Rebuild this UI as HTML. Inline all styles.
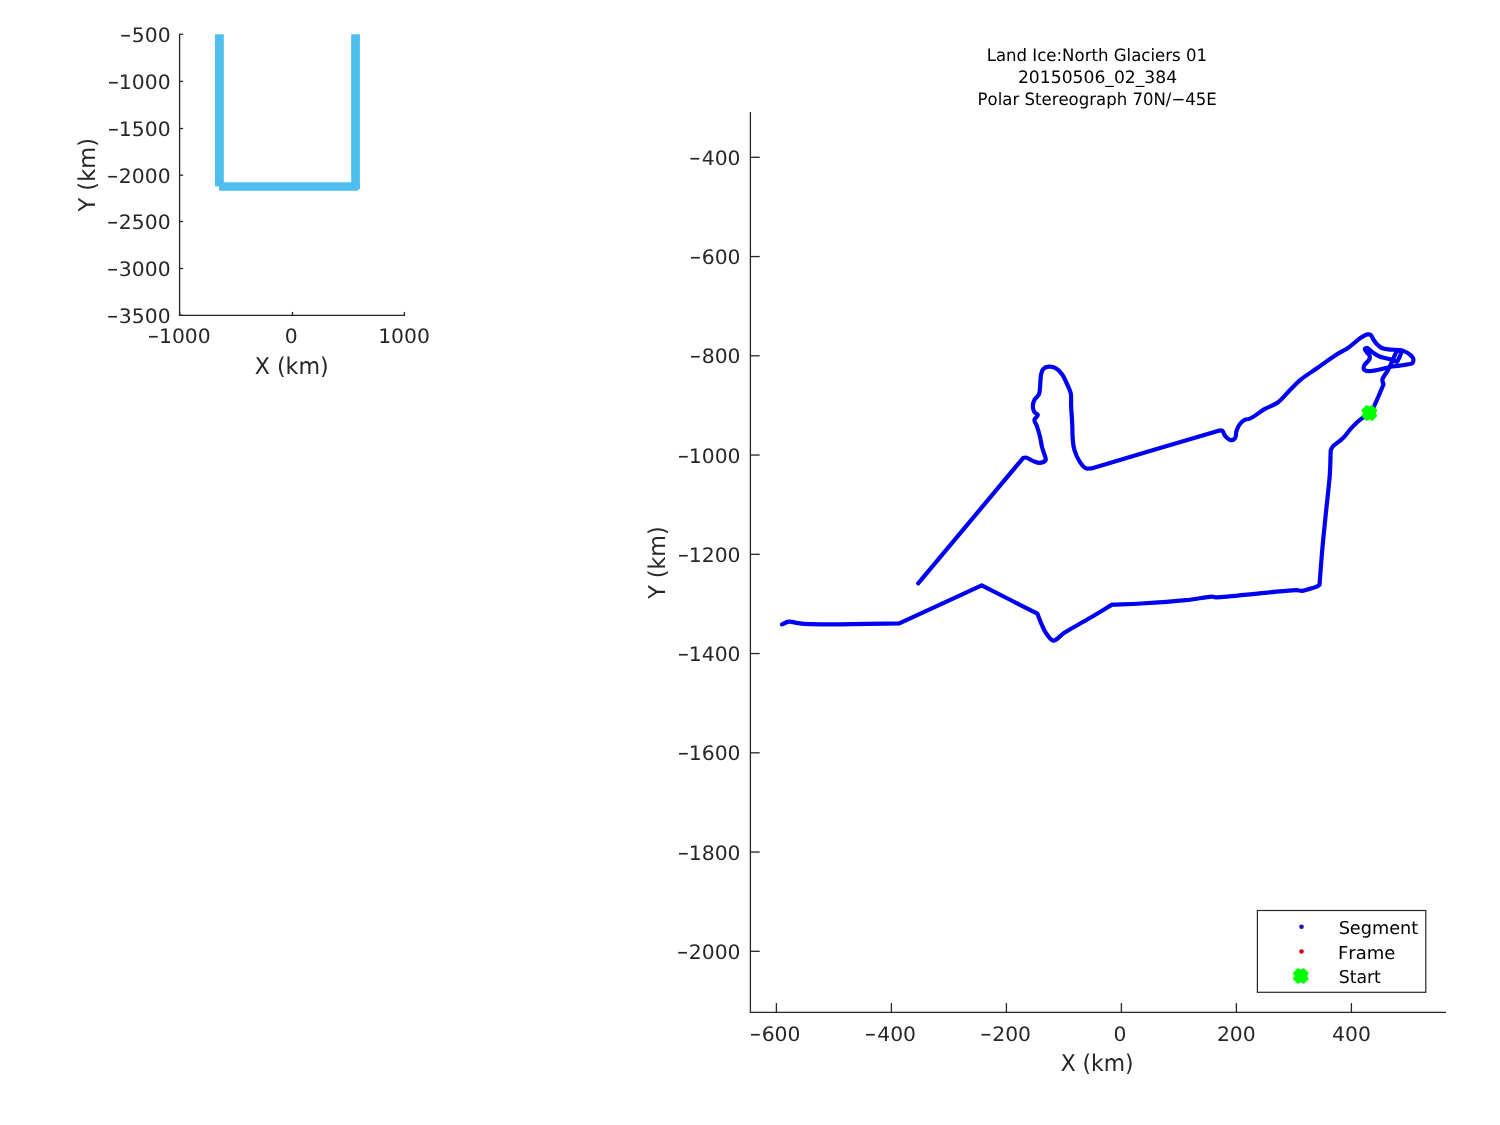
<!DOCTYPE html>
<html><head><meta charset="utf-8"><title>Land Ice: North Glaciers 01</title>
<style>
html,body{margin:0;padding:0;background:#fff;}
svg{display:block;will-change:transform;}
text{font-family:"DejaVu Sans","Liberation Sans",sans-serif;font-kerning:none;text-rendering:geometricPrecision;}
</style></head>
<body>
<svg width="1500" height="1125" viewBox="0 0 1500 1125">
<rect width="1500" height="1125" fill="#fff"/>
<g fill="#4DBEEE"><rect x="215.0" y="34.3" width="8.8" height="152.2"/><rect x="351.2" y="34.3" width="8.7" height="154.1"/><polygon points="219.1,182.2 359.9,182.2 359.9,188.4 357.3,190.7 219.1,190.7"/></g>
<path d="M179.6,34.3 V315.3 H404.4" stroke="#262626" stroke-width="1.3" fill="none" stroke-linecap="square"/>
<g stroke="#262626" stroke-width="1.3" fill="none">
<path d="M179.6,34.30 h3.5"/>
<path d="M179.6,81.40 h3.5"/>
<path d="M179.6,128.50 h3.5"/>
<path d="M179.6,175.20 h3.5"/>
<path d="M179.6,221.50 h3.5"/>
<path d="M179.6,268.50 h3.5"/>
<path d="M179.6,315.30 h3.5"/>
<path d="M179.60,315.3 v-3.4"/>
<path d="M292.50,315.3 v-3.4"/>
<path d="M404.40,315.3 v-3.4"/>
</g>
<text y="42.10" font-size="20.0" fill="#262626"><tspan x="119.77" textLength="11.78" lengthAdjust="spacingAndGlyphs">−</tspan><tspan x="131.79" textLength="38.86" lengthAdjust="spacingAndGlyphs">500</tspan></text>
<text y="89.20" font-size="20.0" fill="#262626"><tspan x="107.48" textLength="11.78" lengthAdjust="spacingAndGlyphs">−</tspan><tspan x="118.84" textLength="51.81" lengthAdjust="spacingAndGlyphs">1000</tspan></text>
<text y="136.30" font-size="20.0" fill="#262626"><tspan x="107.48" textLength="11.78" lengthAdjust="spacingAndGlyphs">−</tspan><tspan x="118.84" textLength="51.81" lengthAdjust="spacingAndGlyphs">1500</tspan></text>
<text y="183.00" font-size="20.0" fill="#262626"><tspan x="106.74" textLength="11.78" lengthAdjust="spacingAndGlyphs">−</tspan><tspan x="118.84" textLength="51.81" lengthAdjust="spacingAndGlyphs">2000</tspan></text>
<text y="229.30" font-size="20.0" fill="#262626"><tspan x="106.74" textLength="11.78" lengthAdjust="spacingAndGlyphs">−</tspan><tspan x="118.84" textLength="51.81" lengthAdjust="spacingAndGlyphs">2500</tspan></text>
<text y="276.30" font-size="20.0" fill="#262626"><tspan x="106.80" textLength="11.78" lengthAdjust="spacingAndGlyphs">−</tspan><tspan x="118.84" textLength="51.81" lengthAdjust="spacingAndGlyphs">3000</tspan></text>
<text y="323.10" font-size="20.0" fill="#262626"><tspan x="106.80" textLength="11.78" lengthAdjust="spacingAndGlyphs">−</tspan><tspan x="118.84" textLength="51.81" lengthAdjust="spacingAndGlyphs">3500</tspan></text>
<text y="343.40" font-size="20.0" fill="#262626"><tspan x="147.60" textLength="11.78" lengthAdjust="spacingAndGlyphs">−</tspan><tspan x="158.95" textLength="51.81" lengthAdjust="spacingAndGlyphs">1000</tspan></text>
<text y="343.40" font-size="20.0" fill="#262626"><tspan x="284.73" textLength="12.95" lengthAdjust="spacingAndGlyphs">0</tspan></text>
<text y="343.40" font-size="20.0" fill="#262626"><tspan x="378.15" textLength="51.81" lengthAdjust="spacingAndGlyphs">1000</tspan></text>
<text x="254.74" y="373.80" font-size="23.1" textLength="73.97" lengthAdjust="spacingAndGlyphs" fill="#262626">X (km)</text>
<text x="94.80" y="211.56" font-size="23.1" textLength="73.49" lengthAdjust="spacingAndGlyphs" fill="#262626" transform="rotate(-90 94.80 211.56)">Y (km)</text>
<g fill="#000">
<text x="986.67" y="60.80" font-size="17.1" textLength="220.36" lengthAdjust="spacingAndGlyphs" fill="#000">Land Ice:North Glaciers 01</text>
<text x="1017.94" y="82.90" font-size="17.1" textLength="159.22" lengthAdjust="spacingAndGlyphs" fill="#000">20150506_02_384</text>
<text x="977.58" y="104.60" font-size="17.1" textLength="239.18" lengthAdjust="spacingAndGlyphs" fill="#000">Polar Stereograph 70N/−45E</text>
</g>
<path d="M750.4,112.6 V1012.4 H1445.4" stroke="#262626" stroke-width="1.3" fill="none" stroke-linecap="square"/>
<g stroke="#262626" stroke-width="1.3" fill="none">
<path d="M750.4,157.30 h9.3"/>
<path d="M750.4,256.55 h9.3"/>
<path d="M750.4,355.80 h9.3"/>
<path d="M750.4,455.05 h9.3"/>
<path d="M750.4,554.30 h9.3"/>
<path d="M750.4,653.55 h9.3"/>
<path d="M750.4,752.80 h9.3"/>
<path d="M750.4,852.05 h9.3"/>
<path d="M750.4,951.30 h9.3"/>
<path d="M776.40,1012.4 v-9.3"/>
<path d="M891.40,1012.4 v-9.3"/>
<path d="M1006.40,1012.4 v-9.3"/>
<path d="M1121.40,1012.4 v-9.3"/>
<path d="M1236.40,1012.4 v-9.3"/>
<path d="M1351.40,1012.4 v-9.3"/>
</g>
<text y="164.90" font-size="20.0" fill="#262626"><tspan x="689.10" textLength="11.78" lengthAdjust="spacingAndGlyphs">−</tspan><tspan x="701.69" textLength="38.86" lengthAdjust="spacingAndGlyphs">400</tspan></text>
<text y="264.15" font-size="20.0" fill="#262626"><tspan x="689.52" textLength="11.78" lengthAdjust="spacingAndGlyphs">−</tspan><tspan x="701.69" textLength="38.86" lengthAdjust="spacingAndGlyphs">600</tspan></text>
<text y="363.40" font-size="20.0" fill="#262626"><tspan x="689.48" textLength="11.78" lengthAdjust="spacingAndGlyphs">−</tspan><tspan x="701.69" textLength="38.86" lengthAdjust="spacingAndGlyphs">800</tspan></text>
<text y="462.65" font-size="20.0" fill="#262626"><tspan x="677.38" textLength="11.78" lengthAdjust="spacingAndGlyphs">−</tspan><tspan x="688.74" textLength="51.81" lengthAdjust="spacingAndGlyphs">1000</tspan></text>
<text y="561.90" font-size="20.0" fill="#262626"><tspan x="677.38" textLength="11.78" lengthAdjust="spacingAndGlyphs">−</tspan><tspan x="688.74" textLength="51.81" lengthAdjust="spacingAndGlyphs">1200</tspan></text>
<text y="661.15" font-size="20.0" fill="#262626"><tspan x="677.38" textLength="11.78" lengthAdjust="spacingAndGlyphs">−</tspan><tspan x="688.74" textLength="51.81" lengthAdjust="spacingAndGlyphs">1400</tspan></text>
<text y="760.40" font-size="20.0" fill="#262626"><tspan x="677.38" textLength="11.78" lengthAdjust="spacingAndGlyphs">−</tspan><tspan x="688.74" textLength="51.81" lengthAdjust="spacingAndGlyphs">1600</tspan></text>
<text y="859.65" font-size="20.0" fill="#262626"><tspan x="677.38" textLength="11.78" lengthAdjust="spacingAndGlyphs">−</tspan><tspan x="688.74" textLength="51.81" lengthAdjust="spacingAndGlyphs">1800</tspan></text>
<text y="958.90" font-size="20.0" fill="#262626"><tspan x="676.64" textLength="11.78" lengthAdjust="spacingAndGlyphs">−</tspan><tspan x="688.74" textLength="51.81" lengthAdjust="spacingAndGlyphs">2000</tspan></text>
<text y="1040.70" font-size="20.0" fill="#262626"><tspan x="749.52" textLength="11.78" lengthAdjust="spacingAndGlyphs">−</tspan><tspan x="761.68" textLength="38.86" lengthAdjust="spacingAndGlyphs">600</tspan></text>
<text y="1040.70" font-size="20.0" fill="#262626"><tspan x="864.60" textLength="11.78" lengthAdjust="spacingAndGlyphs">−</tspan><tspan x="877.20" textLength="38.86" lengthAdjust="spacingAndGlyphs">400</tspan></text>
<text y="1040.70" font-size="20.0" fill="#262626"><tspan x="980.10" textLength="11.78" lengthAdjust="spacingAndGlyphs">−</tspan><tspan x="992.20" textLength="38.86" lengthAdjust="spacingAndGlyphs">200</tspan></text>
<text y="1040.70" font-size="20.0" fill="#262626"><tspan x="1113.63" textLength="12.95" lengthAdjust="spacingAndGlyphs">0</tspan></text>
<text y="1040.70" font-size="20.0" fill="#262626"><tspan x="1216.90" textLength="38.86" lengthAdjust="spacingAndGlyphs">200</tspan></text>
<text y="1040.70" font-size="20.0" fill="#262626"><tspan x="1332.00" textLength="38.86" lengthAdjust="spacingAndGlyphs">400</tspan></text>
<text x="1060.65" y="1071.00" font-size="23.1" textLength="72.93" lengthAdjust="spacingAndGlyphs" fill="#262626">X (km)</text>
<text x="664.90" y="598.86" font-size="23.1" textLength="72.57" lengthAdjust="spacingAndGlyphs" fill="#262626" transform="rotate(-90 664.90 598.86)">Y (km)</text>
<path d="M782.00,624.40 C784.27,623.47 786.32,621.87 788.80,621.60 C791.60,621.29 794.72,622.78 798.00,623.20 C801.72,623.68 804.14,623.99 810.00,624.20 C825.96,624.78 869.53,623.60 899.30,623.30 C926.77,610.63 954.23,597.97 981.70,585.30 C1000.27,594.77 1018.83,604.23 1037.40,613.70 C1038.67,616.90 1039.76,620.08 1041.20,623.30 C1042.71,626.68 1044.18,630.55 1046.30,633.50 C1048.29,636.27 1050.69,640.38 1053.40,640.60 C1056.49,640.85 1059.62,635.83 1064.00,633.00 C1070.57,628.76 1081.18,623.15 1089.40,618.30 C1097.22,613.69 1104.60,609.17 1112.20,604.60 C1121.87,604.23 1130.49,604.10 1141.20,603.50 C1154.52,602.76 1173.08,601.56 1186.00,600.20 C1195.92,599.15 1207.43,596.48 1212.20,596.60 C1214.00,596.65 1213.96,597.21 1215.90,597.30 C1222.89,597.64 1249.93,594.19 1264.40,592.90 C1276.11,591.85 1289.94,589.99 1296.20,590.10 C1298.83,590.15 1299.94,590.90 1301.80,590.80 C1303.68,590.70 1305.31,590.06 1307.40,589.50 C1310.12,588.78 1314.56,587.72 1316.70,586.70 C1317.97,586.10 1318.57,585.43 1319.50,584.80 C1320.43,573.00 1321.24,561.36 1322.30,549.40 C1323.39,537.10 1324.75,524.46 1326.00,512.00 C1327.25,499.56 1329.03,485.82 1329.80,474.70 C1330.42,465.75 1330.40,458.50 1330.70,450.40 C1331.33,449.17 1331.51,448.05 1332.60,446.70 C1334.55,444.29 1339.61,441.47 1342.80,438.30 C1346.16,434.97 1348.95,430.47 1352.20,427.10 C1355.20,423.98 1358.44,421.09 1361.50,418.70 C1364.16,416.62 1366.77,415.17 1369.40,413.40 C1370.90,411.07 1372.26,409.47 1373.90,406.40 C1376.69,401.20 1380.30,391.80 1383.50,384.50 C1383.13,382.90 1382.13,381.51 1382.40,379.70 C1382.81,377.00 1386.25,373.26 1387.90,370.20 C1389.39,367.44 1390.69,364.85 1391.90,362.20 C1393.05,359.68 1394.05,356.63 1395.00,354.70 C1395.63,353.42 1396.00,352.36 1396.80,351.60 C1397.53,350.90 1398.46,350.34 1399.50,350.20 C1400.76,350.02 1402.34,350.49 1403.90,351.10 C1405.96,351.90 1408.98,353.62 1410.60,355.10 C1411.82,356.22 1412.90,357.37 1413.20,358.70 C1413.50,360.04 1413.24,362.19 1412.40,363.10 C1411.59,363.98 1410.01,363.85 1408.40,364.20 C1406.03,364.71 1402.10,365.25 1399.50,365.60 C1397.48,365.87 1396.07,365.87 1394.10,366.20 C1391.68,366.60 1389.30,367.36 1386.10,368.00 C1381.35,368.95 1372.20,371.52 1368.30,371.10 C1366.30,370.88 1364.53,370.34 1363.90,369.30 C1363.32,368.34 1363.72,366.66 1364.30,365.30 C1365.10,363.44 1368.39,361.40 1369.20,359.60 C1369.76,358.35 1370.00,357.13 1369.70,356.00 C1369.37,354.75 1367.82,353.70 1367.00,352.50 C1366.19,351.33 1364.53,349.64 1364.80,348.90 C1365.02,348.29 1366.51,347.81 1367.50,348.00 C1369.05,348.30 1370.87,351.12 1372.80,352.50 C1374.85,353.96 1377.20,355.54 1379.50,356.50 C1381.65,357.39 1383.89,357.62 1386.10,358.20 C1388.33,358.79 1390.84,359.39 1392.80,360.00 C1394.37,360.49 1395.96,361.89 1397.00,361.50 C1397.99,361.13 1398.38,359.29 1399.00,358.00 C1399.72,356.50 1401.00,354.38 1401.00,353.00 C1401.00,352.02 1400.80,351.10 1400.00,350.50 C1398.50,349.38 1393.68,350.02 1390.60,349.60 C1387.58,349.19 1384.06,349.07 1381.70,348.00 C1379.81,347.14 1378.54,345.74 1377.20,344.40 C1375.88,343.07 1374.77,341.56 1373.70,340.00 C1372.60,338.40 1371.95,335.75 1370.70,334.90 C1369.77,334.27 1368.71,334.21 1367.50,334.40 C1365.69,334.68 1363.51,336.07 1361.10,337.60 C1357.46,339.91 1352.67,344.72 1348.30,347.70 C1344.13,350.55 1340.08,352.26 1335.50,355.20 C1329.90,358.80 1323.17,363.88 1317.30,368.00 C1311.80,371.86 1305.96,375.38 1301.30,379.20 C1297.26,382.50 1294.37,385.67 1290.70,389.30 C1286.58,393.37 1282.39,399.15 1277.80,402.50 C1273.76,405.45 1269.42,406.40 1265.00,408.90 C1259.96,411.75 1253.00,417.49 1249.30,418.90 C1247.51,419.58 1246.39,418.95 1245.00,419.60 C1243.31,420.39 1241.47,422.05 1240.10,423.80 C1238.57,425.76 1237.34,428.55 1236.50,431.00 C1235.71,433.32 1236.28,436.56 1235.10,438.10 C1234.14,439.35 1232.29,440.34 1230.80,440.20 C1228.98,440.02 1226.54,437.58 1225.10,435.90 C1223.79,434.37 1223.57,431.46 1222.30,430.70 C1221.31,430.11 1219.90,430.70 1218.70,430.70 C1176.27,443.27 1133.83,455.83 1091.40,468.40 C1089.47,468.33 1087.37,469.00 1085.60,468.20 C1083.50,467.24 1081.69,464.72 1080.00,462.20 C1077.84,458.98 1075.58,453.82 1074.40,450.00 C1073.44,446.87 1073.26,444.59 1072.90,441.10 C1072.39,436.20 1072.50,429.22 1072.20,423.30 C1071.90,417.39 1071.35,410.97 1071.10,405.60 C1070.89,401.13 1071.50,397.12 1070.70,393.30 C1069.95,389.72 1068.15,386.51 1066.70,383.30 C1065.31,380.22 1064.11,376.96 1062.20,374.40 C1060.38,371.96 1058.00,369.47 1055.60,368.20 C1053.51,367.10 1051.01,366.54 1048.90,366.70 C1046.93,366.85 1044.60,367.61 1043.30,368.90 C1042.01,370.18 1041.64,372.12 1041.10,374.40 C1040.29,377.84 1040.46,384.12 1040.00,387.80 C1039.68,390.39 1039.80,392.40 1038.90,394.40 C1037.97,396.48 1035.40,397.92 1034.40,400.00 C1033.42,402.03 1032.85,404.58 1032.90,406.70 C1032.94,408.63 1033.47,410.79 1034.40,412.20 C1035.21,413.43 1037.62,413.76 1037.80,414.90 C1038.01,416.26 1034.58,418.21 1034.40,420.00 C1034.22,421.78 1035.92,423.39 1036.70,425.60 C1037.78,428.65 1039.08,432.98 1040.00,436.70 C1040.91,440.38 1041.35,444.60 1042.20,447.80 C1042.86,450.31 1043.82,452.27 1044.40,454.40 C1044.93,456.33 1046.26,458.59 1045.60,460.00 C1044.90,461.47 1041.99,462.68 1040.00,462.90 C1037.91,463.13 1035.48,461.93 1033.30,461.10 C1031.05,460.24 1028.58,458.24 1026.70,457.80 C1025.42,457.50 1024.43,457.80 1023.30,457.80 C988.27,499.63 953.23,541.47 918.20,583.30" fill="none" stroke="#0000F2" stroke-width="4.2" stroke-linejoin="round" stroke-linecap="round"/>
<polygon fill="#00FF00" points="1366.30,405.00 1369.30,406.60 1372.30,405.00 1377.30,410.00 1375.70,413.00 1377.30,416.00 1372.30,421.00 1369.30,419.40 1366.30,421.00 1361.30,416.00 1362.90,413.00 1361.30,410.00"/>
<rect x="1257.4" y="910.5" width="168.4" height="81.8" fill="#fff" stroke="#262626" stroke-width="1.2"/>
<circle cx="1301.5" cy="926.8" r="2.3" fill="#1414B0"/>
<circle cx="1301.5" cy="951.5" r="2.3" fill="#D40014"/>
<polygon fill="#00FF00" points="1297.80,967.90 1300.80,969.50 1303.80,967.90 1308.80,972.90 1307.20,975.90 1308.80,978.90 1303.80,983.90 1300.80,982.30 1297.80,983.90 1292.80,978.90 1294.40,975.90 1292.80,972.90"/>
<text x="1338.64" y="933.90" font-size="17.7" textLength="79.49" lengthAdjust="spacingAndGlyphs" fill="#000">Segment</text>
<text x="1338.03" y="959.00" font-size="17.7" textLength="57.43" lengthAdjust="spacingAndGlyphs" fill="#000">Frame</text>
<text x="1338.66" y="982.90" font-size="17.7" textLength="42.25" lengthAdjust="spacingAndGlyphs" fill="#000">Start</text>
</svg>
</body></html>
